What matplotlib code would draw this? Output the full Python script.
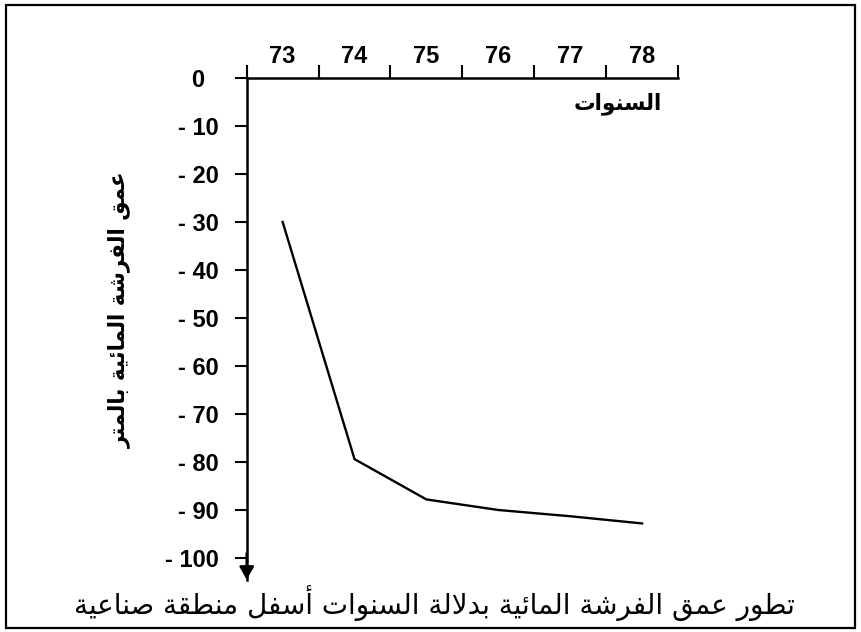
import matplotlib
matplotlib.use("Agg")
import matplotlib.pyplot as plt
from matplotlib.transforms import ScaledTranslation

# ---------------- data ----------------
years = ["73", "74", "75", "76", "77", "78"]
depth = [-30, -79.4, -87.8, -90.0, -91.3, -92.8]
y_ticks = [0, -10, -20, -30, -40, -50, -60, -70, -80, -90, -100]
y_tick_labels = ["0", "- 10", "- 20", "- 30", "- 40", "- 50", "- 60",
                 "- 70", "- 80", "- 90", "- 100"]
x_label = "السنوات"
y_label = "عمق الفرشة المائية بالمتر"
title = "تطور عمق الفرشة المائية بدلالة السنوات أسفل منطقة صناعية"

# ---------------- minimal Arabic shaping ----------------
FORMS = {  # isolated, final, initial, medial
    "ا": (0xFE8D, 0xFE8E, None, None),
    "أ": (0xFE83, 0xFE84, None, None),
    "ة": (0xFE93, 0xFE94, None, None),
    "د": (0xFEA9, 0xFEAA, None, None),
    "ر": (0xFEAD, 0xFEAE, None, None),
    "و": (0xFEED, 0xFEEE, None, None),
    "ب": (0xFE8F, 0xFE90, 0xFE91, 0xFE92),
    "ت": (0xFE95, 0xFE96, 0xFE97, 0xFE98),
    "س": (0xFEB1, 0xFEB2, 0xFEB3, 0xFEB4),
    "ش": (0xFEB5, 0xFEB6, 0xFEB7, 0xFEB8),
    "ص": (0xFEB9, 0xFEBA, 0xFEBB, 0xFEBC),
    "ط": (0xFEC1, 0xFEC2, 0xFEC3, 0xFEC4),
    "ع": (0xFEC9, 0xFECA, 0xFECB, 0xFECC),
    "ف": (0xFED1, 0xFED2, 0xFED3, 0xFED4),
    "ق": (0xFED5, 0xFED6, 0xFED7, 0xFED8),
    "ل": (0xFEDD, 0xFEDE, 0xFEDF, 0xFEE0),
    "م": (0xFEE1, 0xFEE2, 0xFEE3, 0xFEE4),
    "ن": (0xFEE5, 0xFEE6, 0xFEE7, 0xFEE8),
    "ي": (0xFEF1, 0xFEF2, 0xFEF3, 0xFEF4),
    "ئ": (0xFE89, 0xFE8A, 0xFE8B, 0xFE8C),
}
LAM_ALEF = {"ا": (0xFEFB, 0xFEFC), "أ": (0xFEF7, 0xFEF8)}


def dual(c):
    return c in FORMS and FORMS[c][2] is not None


def shape(text):
    out = []
    chars = list(text)
    i = 0
    n = len(chars)
    while i < n:
        c = chars[i]
        if c not in FORMS:
            out.append(c)
            i += 1
            continue
        prev = chars[i - 1] if i > 0 else None
        joins_prev = prev is not None and dual(prev)
        if c == "ل" and i + 1 < n and chars[i + 1] in LAM_ALEF:
            iso, fin = LAM_ALEF[chars[i + 1]]
            out.append(chr(fin if joins_prev else iso))
            i += 2
            continue
        nxt = chars[i + 1] if i + 1 < n else None
        joins_next = dual(c) and nxt is not None and nxt in FORMS
        f = FORMS[c]
        if joins_prev and joins_next:
            g = f[3]
        elif joins_prev:
            g = f[1]
        elif joins_next:
            g = f[2]
        else:
            g = f[0]
        out.append(chr(g))
        i += 1
    return "".join(out)[::-1]


# ---------------- figure ----------------
W, H = 861, 632
fig = plt.figure(figsize=(W / 100, H / 100), dpi=100)
fig.patch.set_facecolor("white")

# outer frame
fig.add_artist(plt.Rectangle((6 / W, 1 - 628 / H), (855 - 6) / W, (628 - 5) / H,
                             transform=fig.transFigure, fill=False,
                             edgecolor="black", linewidth=1.6))

ax_left, ax_right = 246.7, 678.0
ax_top, ax_bot = 78.0, 579.6
ax = fig.add_axes([ax_left / W, 1 - ax_bot / H, (ax_right - ax_left) / W, (ax_bot - ax_top) / H])
ax.set_facecolor("none")

xs = [i + 0.5 for i in range(len(years))]
ax.plot(xs, depth, color="black", linewidth=1.7, solid_joinstyle="miter")

ax.set_xlim(0, len(years))
ax.set_ylim(-104.5, 0)

for s in ["right", "bottom"]:
    ax.spines[s].set_visible(False)
for s in ["left", "top"]:
    ax.spines[s].set_linewidth(1.8)

tick_font = dict(fontsize=17, fontweight="bold", family="Liberation Sans")

ax.xaxis.set_ticks_position("top")
ax.set_xticks(range(len(years) + 1))
ax.set_xticklabels([""] * (len(years) + 1))
ax.set_xticks(xs, minor=True)
ax.set_xticklabels(years, minor=True, **tick_font)
ax.tick_params(axis="x", which="major", direction="out", length=9.5, width=1.5)
ax.tick_params(axis="x", which="minor", length=0, pad=7)

ax.set_yticks(y_ticks)
ax.set_yticklabels(y_tick_labels, **tick_font)
ax.tick_params(axis="y", direction="out", length=9, width=1.5, pad=11)

# the "0" label sits a little further left in the reference
zero_lbl = ax.get_yticklabels()[0]
zero_lbl.set_transform(zero_lbl.get_transform()
                       + ScaledTranslation(-0.15, 0, fig.dpi_scale_trans))

ax.annotate("", xy=(0, -104.5), xytext=(0, -99),
            arrowprops=dict(arrowstyle="-|>,head_length=0.35,head_width=0.2",
                            lw=1.8, color="black", mutation_scale=22,
                            shrinkA=0, shrinkB=0),
            annotation_clip=False)

fig.text(618 / W, 1 - 104 / H, shape(x_label), ha="center", va="center",
         fontsize=15.5, fontweight="bold", family=["DejaVu Sans"])
fig.text(120 / W, 1 - 310 / H, shape(y_label), ha="center", va="center",
         rotation=90, fontsize=15.5, fontweight="bold", family=["DejaVu Sans"])
fig.text(434 / W, 1 - 603 / H, shape(title), ha="center", va="center",
         fontsize=20, family=["DejaVu Sans"])

fig.savefig("out.png", dpi=100, facecolor="white")
